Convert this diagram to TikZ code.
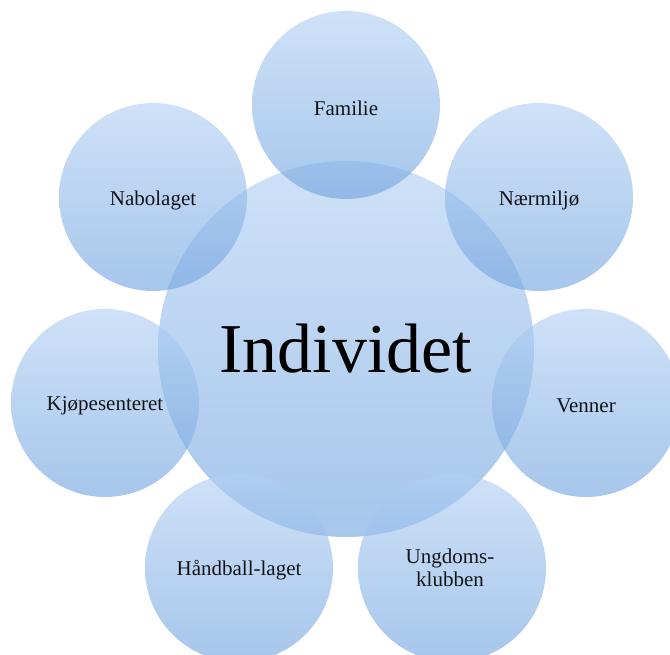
\documentclass[tikz,border=0pt]{standalone}
\usepackage{fontspec}
\setmainfont{Liberation Serif}
\definecolor{ctop}{RGB}{177,207,243}
\definecolor{cbot}{RGB}{112,163,223}
\definecolor{ink}{RGB}{20,20,25}
\tikzset{
  bubble/.style={circle, inner sep=0pt, top color=ctop, bottom color=cbot,
    fill opacity=0.62, text opacity=1, align=center, text=ink},
  small/.style={bubble, minimum size=188pt, font=\fontsize{21}{23}\selectfont},
  big/.style={bubble, minimum size=376pt}
}
\begin{document}
\begin{tikzpicture}[x=1pt,y=-1pt]
\useasboundingbox (0,0) rectangle (670,655);
\clip (0,0) rectangle (670,655);
\node[big] (ind) at (346,349) {};
\node[small] (fam) at (346,105) {};
\node[small] (nab) at (153,197) {};
\node[small] (naer) at (539,197) {};
\node[small] (kjo) at (105,403) {};
\node[small] (ven) at (586,403) {};
\node[small] (hand) at (239,568) {};
\node[small] (ung) at (452,568) {};
\begin{scope}[every node/.style={text=ink, align=center, font=\fontsize{21}{23}\selectfont}]
\node (famt) at (346,108) {Familie};
\node (nabt) at (153,200) {Nabolaget};
\node (naert) at (539,200) {Nærmiljø};
\node (kjot) at (105,406) {Kjøpesenteret};
\node (vent) at (586,406) {Venner};
\node (handt) at (239,570) {Håndball-laget};
\node (ungt) at (450,568) {Ungdoms-\\klubben};
\end{scope}
\node[text=black, font=\fontsize{70}{72}\selectfont] (indt) at (346,349) {Individet};
\end{tikzpicture}
\end{document}
